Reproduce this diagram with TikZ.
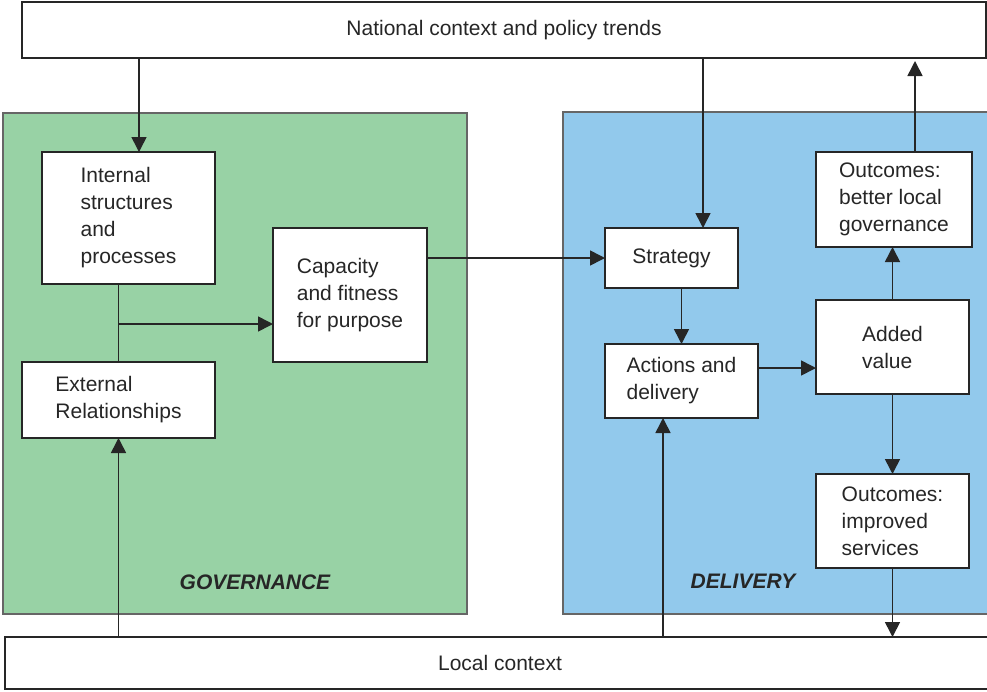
\documentclass[tikz,border=0pt]{standalone}
\usepackage{fontspec}
\setmainfont{Liberation Sans}
\usepackage{tikz}
\usetikzlibrary{arrows.meta}
\definecolor{govgreen}{RGB}{152,210,165}
\definecolor{delblue}{RGB}{146,201,236}
\tikzset{main box/.style={draw=black!85,line width=1.6pt,fill=white,inner sep=0pt,outer sep=0pt,align=left,text=black!85,font=\fontsize{21}{27}\selectfont},
  panel/.style={draw=black!60,line width=1.4pt,inner sep=0pt,outer sep=0pt},
  panel label/.style={font=\fontsize{21}{27}\selectfont\bfseries\itshape,text=black!85},
  arr/.style={draw=black!85,line width=1.6pt,-{Triangle[length=15pt,width=15pt]}},
  link/.style={draw=black!85,line width=1.6pt}}

\begin{document}
\begin{tikzpicture}[x=1pt,y=-1pt]
            \useasboundingbox (0,0) rectangle (987,691);
            % the two panels
            \node[panel,fill=govgreen,minimum width=464,minimum height=501] (gov) at (235,363.5) {};
            \node[panel,fill=delblue,minimum width=430,minimum height=502] (del) at (778,363) {};
            \node[panel label] (govlabel) at (255,582) {GOVERNANCE};
            \node[panel label] (dellabel) at (743,581) {DELIVERY};

            % context bars
            \node[main box,minimum width=964,minimum height=56] (nat) at (504,30) {National context and policy trends};
            \node[main box,minimum width=990,minimum height=52] (loc) at (500,663) {Local context};

            % governance side
            \node[main box,minimum width=173,minimum height=132] (int) at (128.5,218) {Internal\\structures\\and\\processes};
            \node[main box,minimum width=193,minimum height=76] (ext) at (118.5,400) {External\\Relationships};
            \node[main box,minimum width=154,minimum height=134] (cap) at (350,295) {Capacity\\and fitness\\for purpose};

            % delivery side
            \node[main box,minimum width=133,minimum height=60] (str) at (671.5,258) {Strategy};
            \node[main box,minimum width=153,minimum height=74] (act) at (681.5,381) {Actions and\\delivery};
            \node[main box,minimum width=153,minimum height=94] (add) at (892.5,347) {Added\\value};
            \node[main box,minimum width=156,minimum height=95] (obg) at (894,199.5) {Outcomes:\\better local\\governance};
            \node[main box,minimum width=153,minimum height=94] (osv) at (892.5,521) {Outcomes:\\improved\\services};

            \coordinate (cx1) at (139,0);
            \coordinate (cx2) at (703,0);
            \coordinate (cx3) at (915,0);
            \coordinate (cx4) at (663,0);
            \coordinate (cy1) at (0,368);
            \coordinate (cy2) at (0,324);
            \coordinate (toptip) at (915,61);

            \draw[arr] (nat.south -| cx1) -- (int.north -| cx1);
            \draw[link] (int.south -| ext.north) -- (ext.north);
            \draw[arr] (ext.north |- cy2) -- (cap.west |- cy2);
            \draw[arr] (loc.north -| ext.south) -- (ext.south);
            \draw[arr] (cap.east |- str.west) -- (str.west);
            \draw[arr] (nat.south -| cx2) -- (str.north -| cx2);
            \draw[arr] (str.south -| act.north) -- (act.north);
            \draw[arr] (act.east |- cy1) -- (add.west |- cy1);
            \draw[arr] (add.north) -- (obg.south -| add.north);
            \draw[arr] (obg.north -| cx3) -- (toptip);
            \draw[arr] (add.south) -- (osv.north -| add.south);
            \draw[arr] (osv.south) -- (loc.north -| osv.south);
            \draw[arr] (loc.north -| cx4) -- (act.south -| cx4);
        \end{tikzpicture}
\end{document}
